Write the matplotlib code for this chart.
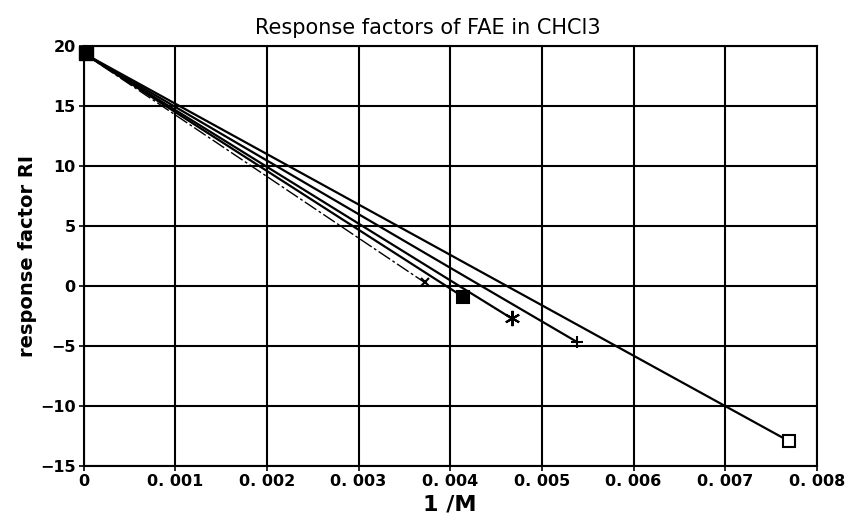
import matplotlib
matplotlib.use("Agg")
import matplotlib.pyplot as plt

# start point shared by every line
x0, y0 = 0.0, 19.4

# end points of the five lines (1/M, RI)
ends_x = [0.00372, 0.00414, 0.00467, 0.00538, 0.00770]
ends_y = [0.3, -0.9, -2.7, -4.65, -12.95]
markers = ['x', 's', (6, 2, 0), '+', 's']
fills = ['black', 'black', 'black', 'black', 'white']
msizes = [6, 8, 11, 9, 9]

xticks = [0, 0.001, 0.002, 0.003, 0.004, 0.005, 0.006, 0.007, 0.008]
xlabels = ['0', '0. 001', '0. 002', '0. 003', '0. 004', '0. 005', '0. 006', '0. 007', '0. 008']
yticks = [-15, -10, -5, 0, 5, 10, 15, 20]

plt.rcParams['font.family'] = 'DejaVu Sans'

fig = plt.figure(figsize=(8.46, 5.20), dpi=100)
ax = fig.add_axes([0.0987, 0.1038, 0.867, 0.8077])

for i in range(len(ends_x)):
    ls = (0, (10, 2, 2, 2)) if i == 0 else '-'
    lw = 1.0 if i == 0 else 1.6
    ax.plot([x0, ends_x[i]], [y0, ends_y[i]], color='black', lw=lw, ls=ls)
    ax.plot(ends_x[i], ends_y[i], marker=markers[i], ms=msizes[i],
            mfc=fills[i], mec='black', mew=1.5, ls='none', clip_on=False)

# big filled square at the shared start point
ax.plot(x0 + 0.00003, y0, marker='s', ms=10, color='black', clip_on=False)

ax.set_xlim(0, 0.008)
ax.set_ylim(-15, 20)
ax.set_xticks(xticks)
ax.set_xticklabels(xlabels)
ax.set_yticks(yticks)
ax.set_yticklabels([str(v).replace('-', '\u2212') for v in yticks])
ax.grid(True, color='black', lw=1.5)
for s in ax.spines.values():
    s.set_linewidth(1.5)
ax.tick_params(direction='inout', length=7, width=1.2, labelsize=11.5, pad=2)
for t in ax.get_xticklabels() + ax.get_yticklabels():
    t.set_fontweight('bold')

ax.set_title('Response factors of FAE in CHCl3', fontsize=15, x=0.47, pad=9)
ax.set_xlabel('1 /M', fontsize=16, fontweight='bold', labelpad=4)
ax.set_ylabel('response factor RI', fontsize=14, fontweight='bold')
ax.yaxis.set_label_coords(-0.063, 0.5)

fig.savefig('out.png', dpi=100)
